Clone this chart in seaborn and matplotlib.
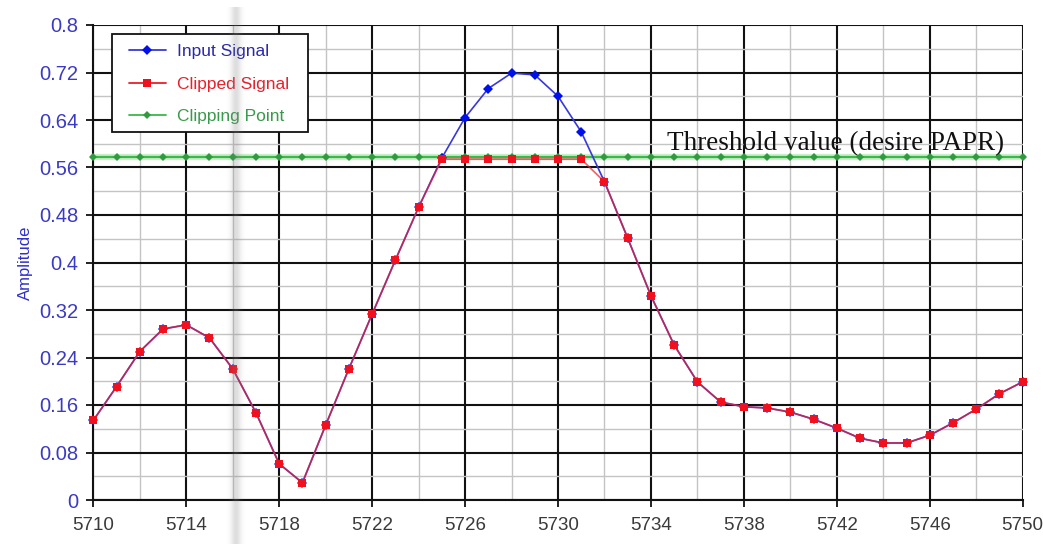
import numpy as np
import pandas as pd
import matplotlib
matplotlib.use("Agg")
import matplotlib.pyplot as plt
from matplotlib.patches import Rectangle
import seaborn as sns

# Sample index of the signal segment
samples = list(range(5710, 5751))

# Input signal amplitude per sample
input_signal = [0.134, 0.191, 0.250, 0.288, 0.295, 0.273, 0.221, 0.147, 0.061, 0.029,
                0.126, 0.221, 0.313, 0.404, 0.493, 0.576, 0.644, 0.693, 0.719, 0.716,
                0.680, 0.620, 0.536, 0.441, 0.344, 0.261, 0.199, 0.165, 0.157, 0.155,
                0.148, 0.136, 0.121, 0.104, 0.096, 0.096, 0.109, 0.130, 0.153, 0.179,
                0.199]

# Signal after amplitude clipping
clipped_signal = [0.134, 0.191, 0.250, 0.288, 0.295, 0.273, 0.221, 0.147, 0.061, 0.029,
                  0.126, 0.221, 0.313, 0.404, 0.493, 0.574, 0.574, 0.574, 0.574, 0.574,
                  0.574, 0.574, 0.536, 0.441, 0.344, 0.261, 0.199, 0.165, 0.157, 0.155,
                  0.148, 0.136, 0.121, 0.104, 0.096, 0.096, 0.109, 0.130, 0.153, 0.179,
                  0.199]

# Clipping threshold level
clip_level = 0.578
clipping_point = [clip_level] * len(samples)

x_ticks = [5710, 5714, 5718, 5722, 5726, 5730, 5734, 5738, 5742, 5746, 5750]
y_ticks = [0, 0.08, 0.16, 0.24, 0.32, 0.4, 0.48, 0.56, 0.64, 0.72, 0.8]
y_tick_labels = ["0", "0.08", "0.16", "0.24", "0.32", "0.4", "0.48", "0.56", "0.64", "0.72", "0.8"]

df = pd.DataFrame({"sample": samples, "input": input_signal,
                   "clipped": clipped_signal, "clip": clipping_point})

sns.set_style("white")
plt.rcParams["font.family"] = ["Liberation Sans", "DejaVu Sans"]

fig = plt.figure(figsize=(10.43, 5.44), dpi=100)
ax = fig.add_axes([93.3 / 1043, 1 - 500 / 544, 929.4 / 1043, 475 / 544])

# grid: minor grey, major black
ax.set_xlim(5710, 5750)
ax.set_ylim(0, 0.8)
ax.set_xticks(x_ticks)
ax.set_xticks(np.arange(5710, 5751, 2), minor=True)
ax.set_yticks(y_ticks)
ax.set_yticks(np.arange(0, 0.81, 0.04), minor=True)
ax.set_yticklabels(y_tick_labels)
ax.grid(which="minor", color="#c4c4c4", lw=1.0, zorder=0)
ax.grid(which="major", color="#111111", lw=1.5, zorder=0.5)
ax.set_axisbelow(True)

# clipping threshold with soft halo
sns.lineplot(data=df, x="sample", y="clip", ax=ax, color="#9be29b", lw=4.5,
             alpha=0.55, zorder=2, legend=False)
sns.lineplot(data=df, x="sample", y="clip", ax=ax, color="#3cb84a", lw=1.6,
             marker="D", markersize=4, markeredgewidth=0, markerfacecolor="#2f9a3e",
             zorder=3, label="Clipping Point")

# input and clipped signals
sns.lineplot(data=df, x="sample", y="input", ax=ax, color="#3838dc", lw=1.2,
             marker="D", markersize=5.5, markeredgewidth=0, markerfacecolor="#0010e8",
             zorder=4, label="Input Signal")
sns.lineplot(data=df, x="sample", y="clipped", ax=ax, color="#e8202a", lw=1.3, alpha=0.68,
             zorder=5, legend=False)
sns.lineplot(data=df, x="sample", y="clipped", ax=ax, color="#e8202a", lw=0,
             marker="s", markersize=6, markeredgewidth=0, markerfacecolor="#f0101e",
             zorder=6, label="Clipped Signal")
for ln in ax.lines:
    ln.set_clip_on(False)

ax.text(5734.7, clip_level + 0.001, "Threshold value (desire PAPR)",
        family=["Liberation Serif", "DejaVu Serif"], fontsize=19.5, color="#111111",
        ha="left", va="bottom", zorder=7)

# axes styling
for side in ["left", "bottom"]:
    ax.spines[side].set_color("#111111")
    ax.spines[side].set_linewidth(1.5)
for side in ["top", "right"]:
    ax.spines[side].set_visible(False)
ax.tick_params(axis="y", which="major", length=5, width=1.3, color="#111111",
               labelsize=14.5, labelcolor="#3a3ac4", pad=6, left=True)
ax.tick_params(axis="x", which="major", length=5, width=1.3, color="#111111",
               labelsize=13.5, labelcolor="#3a3a3a", pad=7, bottom=True)
ax.tick_params(which="minor", length=0)
ax.set_xlabel("")
ax.set_ylabel("Amplitude", color="#3030c8", fontsize=12, labelpad=4)

# legend with coloured labels inside a hand-sized box
handles, labels = ax.get_legend_handles_labels()
order = [labels.index(n) for n in ["Input Signal", "Clipped Signal", "Clipping Point"]]
handles = [handles[i] for i in order]
labels = [labels[i] for i in order]
leg = ax.legend(handles, labels, loc="upper left", bbox_to_anchor=(0.0384, 0.960),
                borderaxespad=0, frameon=False, fontsize=12.5,
                handlelength=2.13, handletextpad=0.63, labelspacing=1.0, borderpad=0)
leg.set_zorder(8)
for txt, col in zip(leg.get_texts(), ["#2a2aa8", "#e8202a", "#3a9a4c"]):
    txt.set_color(col)
for h in leg.legend_handles:
    h.set_alpha(1)
    h.set_linewidth(1.3)
leg.legend_handles[1].set_linestyle("-")
leg.legend_handles[1].set_linewidth(1.3)

box_x0, box_x1 = 0.0201, 0.2310
box_y0, box_y1 = 0.7747, 0.9811
ax.add_patch(Rectangle((box_x0, box_y0), box_x1 - box_x0, box_y1 - box_y0,
                       transform=ax.transAxes, facecolor="white", edgecolor="#111111",
                       lw=1.3, zorder=7.9, clip_on=False))

# faint grey fold shading across the page
band = fig.add_axes([224 / 1043, 0, 24 / 1043, 537 / 544], zorder=20)
xs = np.linspace(-1, 1, 96)
alpha = 0.26 * np.exp(-(xs / 0.42) ** 2)
rgba = np.zeros((1, 96, 4))
rgba[..., :3] = 0.5
rgba[0, :, 3] = alpha
band.imshow(rgba, aspect="auto", extent=(0, 1, 0, 1), interpolation="bilinear")
band.axis("off")
band.patch.set_alpha(0)

fig.savefig("out.png", dpi=100)
